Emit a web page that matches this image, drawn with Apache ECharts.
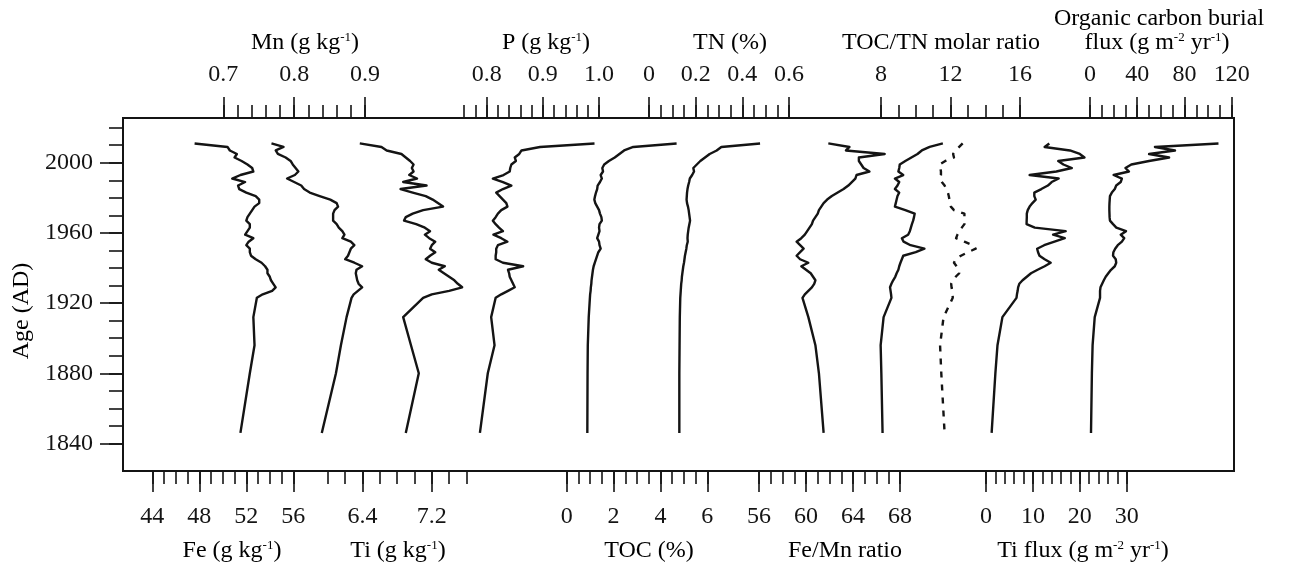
<!DOCTYPE html>
<html>
<head>
<meta charset="utf-8">
<script src="https://cdn.jsdelivr.net/npm/echarts@6/dist/echarts.min.js"></script>
<style>
  html, body { margin: 0; padding: 0; background: #fff; }
  #chart { width: 1289px; height: 566px; }
</style>
</head>
<body>
<div id="chart"></div>
<script>
// sample ages (AD), shared by every profile
const ages = [2011, 2009, 2007, 2005, 2003, 2001, 1999, 1997, 1995, 1993,
  1991, 1989, 1987, 1985, 1983, 1981, 1979, 1977, 1975, 1973,
  1971, 1969, 1967, 1965, 1963, 1961, 1959, 1957, 1955, 1953,
  1951, 1949, 1947, 1945, 1943, 1941, 1939, 1937, 1935, 1933,
  1931, 1929, 1927, 1925, 1923, 1912, 1896, 1880, 1846]

const fe = [47.6, 50.4, 50.6, 51.2, 51.0, 51.6, 52.1, 52.5, 52.6, 51.5,
  50.8, 51.9, 51.3, 51.4, 52.0, 52.8, 53.1, 53.1, 52.7, 52.5,
  52.3, 52.1, 52.0, 52.3, 52.3, 52.1, 51.9, 52.6, 52.2, 52.0,
  52.3, 52.3, 52.4, 52.8, 53.3, 53.6, 53.8, 53.8, 54.0, 54.1,
  54.3, 54.5, 54.2, 53.4, 52.9, 52.6, 52.7, 52.3, 51.5]
const mn = [0.768, 0.785, 0.774, 0.777, 0.788, 0.795, 0.798, 0.802, 0.806, 0.801,
  0.790, 0.800, 0.810, 0.814, 0.822, 0.836, 0.851, 0.860, 0.862, 0.857,
  0.855, 0.855, 0.855, 0.860, 0.863, 0.868, 0.871, 0.868, 0.880, 0.885,
  0.880, 0.878, 0.876, 0.872, 0.885, 0.896, 0.888, 0.887, 0.888, 0.889,
  0.891, 0.896, 0.890, 0.884, 0.881, 0.874, 0.866, 0.859, 0.839]
const ti = [6.37, 6.62, 6.68, 6.85, 6.90, 6.95, 6.99, 6.97, 6.99, 6.94,
  7.03, 6.87, 7.14, 6.84, 6.98, 7.13, 7.21, 7.27, 7.33, 7.10,
  6.98, 6.90, 6.88, 7.02, 7.12, 7.18, 7.12, 7.17, 7.24, 7.20,
  7.18, 7.24, 7.18, 7.13, 7.20, 7.35, 7.28, 7.34, 7.40, 7.46,
  7.50, 7.55, 7.40, 7.20, 7.10, 6.87, 6.96, 7.05, 6.90]
const p = [0.992, 0.895, 0.862, 0.858, 0.850, 0.852, 0.844, 0.842, 0.841, 0.830,
  0.811, 0.829, 0.844, 0.829, 0.817, 0.823, 0.829, 0.835, 0.837, 0.826,
  0.820, 0.816, 0.811, 0.816, 0.822, 0.829, 0.812, 0.826, 0.837, 0.820,
  0.817, 0.817, 0.816, 0.816, 0.829, 0.865, 0.838, 0.840, 0.841, 0.844,
  0.847, 0.850, 0.838, 0.826, 0.816, 0.808, 0.814, 0.802, 0.788]
const toc = [4.69, 2.84, 2.45, 2.25, 2.05, 1.80, 1.60, 1.52, 1.55, 1.45,
  1.50, 1.42, 1.32, 1.30, 1.25, 1.21, 1.18, 1.22, 1.30, 1.38,
  1.42, 1.48, 1.50, 1.40, 1.38, 1.40, 1.35, 1.30, 1.38, 1.40,
  1.45, 1.35, 1.30, 1.25, 1.20, 1.15, 1.12, 1.10, 1.08, 1.06,
  1.05, 1.03, 1.02, 1.00, 0.99, 0.94, 0.90, 0.89, 0.88]
const tn = [0.476, 0.310, 0.290, 0.260, 0.240, 0.220, 0.205, 0.190, 0.193, 0.185,
  0.175, 0.172, 0.168, 0.165, 0.163, 0.162, 0.161, 0.163, 0.167, 0.170,
  0.172, 0.174, 0.176, 0.173, 0.170, 0.168, 0.166, 0.165, 0.166, 0.162,
  0.160, 0.157, 0.154, 0.152, 0.150, 0.147, 0.145, 0.143, 0.141, 0.140,
  0.138, 0.137, 0.136, 0.135, 0.134, 0.132, 0.131, 0.130, 0.130]
const feMn = [61.9, 63.7, 63.4, 66.7, 64.5, 64.5, 64.7, 64.9, 65.4, 64.3,
  64.2, 63.9, 63.6, 63.2, 62.7, 62.2, 61.8, 61.5, 61.3, 61.1,
  61.0, 60.8, 60.6, 60.5, 60.3, 60.1, 59.9, 59.6, 59.2, 59.5,
  59.8, 59.5, 59.2, 59.5, 60.2, 59.6, 60.0, 60.4, 60.6, 60.8,
  60.7, 60.5, 60.2, 59.9, 59.7, 60.2, 60.8, 61.1, 61.5]
const tocTn = [11.56, 10.8, 10.35, 10.1, 9.75, 9.4, 9.08, 9.05, 9.0, 9.28,
  8.80, 9.05, 8.95, 8.80, 9.05, 8.95, 8.90, 8.85, 8.80, 9.40,
  9.94, 9.90, 9.85, 9.78, 9.72, 9.66, 9.56, 9.20, 9.30, 9.70,
  10.5, 10.0, 9.28, 9.20, 9.12, 9.05, 9.00, 8.90, 8.82, 8.70,
  8.60, 8.52, 8.55, 8.58, 8.60, 8.15, 7.98, 8.02, 8.09]
// dashed profile drawn on the TOC/TN scale
const tocTnDash = [12.7, 12.5, 12.3, 12.15, 12.2, 11.7, 11.37, 11.42, 11.45, 11.45,
  11.4, 11.5, 11.66, 11.75, 11.85, 11.9, 11.94, 11.98, 12.02, 12.2,
  12.8, 12.8, 12.8, 12.8, 12.65, 12.5, 12.4, 12.32, 12.8, 13.28,
  13.45, 13.0, 12.6, 12.3, 12.2, 12.35, 12.45, 12.5, 12.3, 12.15,
  12.04, 12.06, 12.1, 12.12, 12.13, 11.6, 11.4, 11.47, 11.66]
const tiFlux = [13.5, 12.5, 17.9, 20.0, 21.0, 15.4, 16.5, 18.3, 15.0, 9.3,
  15.5, 14.0, 13.2, 11.8, 10.3, 10.3, 10.6, 9.9, 9.3, 8.9,
  8.7, 8.7, 8.67, 8.65, 10.4, 17.0, 14.3, 16.8, 14.6, 12.4,
  10.9, 11.1, 11.4, 12.5, 13.8, 12.5, 11.0, 9.6, 8.7, 7.8,
  7.1, 6.85, 6.75, 6.6, 6.5, 3.5, 2.45, 2.0, 1.2]
const ocFlux = [108.8, 55, 72, 50, 67, 50, 35, 30, 33, 20,
  27, 26, 22.2, 21, 18.5, 16.9, 16.7, 16.5, 16.4, 16.4,
  16.5, 16.6, 16.9, 19.5, 22.3, 30.5, 26, 29, 27, 23.5,
  21.3, 19.8, 19.5, 21.8, 22.2, 21.0, 17.8, 15.5, 13.3, 11.7,
  10.3, 8.9, 8.5, 8.5, 8.5, 4.0, 2.2, 1.6, 0.85]

// tick labels
const ageTicks = [1840, 1880, 1920, 1960, 2000]
const mnTicks = [0.7, 0.8, 0.9]
const pTicks = [0.8, 0.9, 1.0]
const tnTicks = [0, 0.2, 0.4, 0.6]
const tocTnTicks = [8, 12, 16]
const ocTicks = [0, 40, 80, 120]
const feTicks = [44, 48, 52, 56]
const tiTicks = [6.4, 7.2]
const tocTicks = [0, 2, 4, 6]
const feMnTicks = [56, 60, 64, 68]
const tiFluxTicks = [0, 10, 20, 30]

const FONT = 'Liberation Serif'
const INK = '#141414'
const TOP = 118
const HEIGHT = 353
const AGE_MIN = 1824.3
const AGE_MAX = 2025.5

function steps(min, max, step) {
  const out = []
  for (let v = min; v <= max + step / 1000; v += step) out.push(Math.round(v * 1000) / 1000)
  return out
}

const grid = [{ left: 123, top: TOP, width: 1111, height: HEIGHT, show: true,
  borderColor: INK, borderWidth: 2, backgroundColor: 'transparent' }]
const xAxis = [{ gridIndex: 0, type: 'value', min: 0, max: 1, show: false }]
const tickStyle = { color: INK, width: 1.6 }
const yAxis = [
  {
    gridIndex: 0, type: 'value', min: AGE_MIN, max: AGE_MAX, position: 'left',
    axisLine: { show: false }, splitLine: { show: false },
    axisTick: { customValues: ageTicks, length: 23, lineStyle: tickStyle },
    axisLabel: { customValues: ageTicks, margin: 30, color: INK, fontFamily: FONT, fontSize: 24,
      formatter: v => String(v) }
  },
  {
    gridIndex: 0, type: 'value', min: AGE_MIN, max: AGE_MAX, position: 'left',
    axisLine: { show: false }, splitLine: { show: false },
    axisTick: { customValues: steps(1840, 2020, 10), length: 14, lineStyle: tickStyle },
    axisLabel: { show: false }
  }
]
const series = []

function segment(pos, min, max, px0, px1, ticks, step, dec) {
  const g = grid.length
  grid.push({ left: px0, top: TOP, width: px1 - px0, height: HEIGHT })
  const major = xAxis.length
  xAxis.push({
    gridIndex: g, type: 'value', min: min, max: max, position: pos,
    axisLine: { show: false }, splitLine: { show: false },
    axisTick: { customValues: ticks, length: 21, lineStyle: tickStyle },
    axisLabel: {
      customValues: ticks, margin: pos === 'top' ? 43 : 46, verticalAlign: 'middle',
      color: INK, fontFamily: FONT, fontSize: 24,
      formatter: v => dec ? Number(v).toFixed(dec) : String(Math.round(v * 1000) / 1000)
    }
  })
  xAxis.push({
    gridIndex: g, type: 'value', min: min, max: max, position: pos,
    axisLine: { show: false }, splitLine: { show: false },
    axisTick: { customValues: steps(min, max, step), length: 13, lineStyle: tickStyle },
    axisLabel: { show: false }
  })
  const y = yAxis.length
  yAxis.push({ gridIndex: g, type: 'value', min: AGE_MIN, max: AGE_MAX, show: false })
  return { x: major, y: y }
}

function profile(axes, values, dashed) {
  series.push({
    type: 'line', xAxisIndex: axes.x, yAxisIndex: axes.y,
    data: values.map((v, i) => [v, ages[i]]),
    showSymbol: false, clip: false, silent: true,
    lineStyle: { color: INK, width: 2.4, type: dashed ? [6, 7] : 'solid', join: 'round' }
  })
}

// top axes
const mnAx = segment('top', 0.7, 0.9, 223.3, 365, mnTicks, 0.02)
const pAx = segment('top', 0.76, 1.0, 464.2, 599, pTicks, 0.02, 1)
const tnAx = segment('top', 0, 0.6, 649, 789, tnTicks, 0.05)
const tocTnAx = segment('top', 8, 16, 881, 1020, tocTnTicks, 1)
const ocAx = segment('top', 0, 120, 1090, 1231.7, ocTicks, 10)
// bottom axes
const feAx = segment('bottom', 44, 56, 152.3, 293.3, feTicks, 1)
const tiAx = segment('bottom', 6.0, 7.6, 327.7, 466.5, tiTicks, 0.2)
const tocAx = segment('bottom', 0, 6, 566.7, 707.3, tocTicks, 0.5)
const feMnAx = segment('bottom', 56, 68, 759, 900, feMnTicks, 1)
const tiFluxAx = segment('bottom', 0, 30, 986, 1126.7, tiFluxTicks, 2)

profile(feAx, fe)
profile(mnAx, mn)
profile(tiAx, ti)
profile(pAx, p)
profile(tocAx, toc)
profile(tnAx, tn)
profile(feMnAx, feMn)
profile(tocTnAx, tocTn)
profile(tocTnAx, tocTnDash, true)
profile(tiFluxAx, tiFlux)
profile(ocAx, ocFlux)

const rich = {
  n: { fontFamily: FONT, fontSize: 24, color: INK },
  s: { fontFamily: FONT, fontSize: 13, color: INK, verticalAlign: 'top' }
}
function label(x, y, text, rotation) {
  return {
    type: 'text', x: x, y: y, rotation: rotation || 0, silent: true,
    style: { text: text, rich: rich, align: 'center', verticalAlign: 'middle' }
  }
}

const chart = echarts.init(document.getElementById('chart'))
chart.setOption({
  animation: false,
  backgroundColor: '#fff',
  grid: grid,
  xAxis: xAxis,
  yAxis: yAxis,
  series: series,
  graphic: [
    label(305, 43, '{n|Mn (g kg}{s|-1}{n|)}'),
    label(546, 43, '{n|P (g kg}{s|-1}{n|)}'),
    label(730, 43, '{n|TN (%)}'),
    label(941, 43, '{n|TOC/TN molar ratio}'),
    label(1159, 19, '{n|Organic carbon burial}'),
    label(1157, 43, '{n|flux (g m}{s|-2}{n| yr}{s|-1}{n|)}'),
    label(232, 551, '{n|Fe (g kg}{s|-1}{n|)}'),
    label(398, 551, '{n|Ti (g kg}{s|-1}{n|)}'),
    label(649, 551, '{n|TOC (%)}'),
    label(845, 551, '{n|Fe/Mn ratio}'),
    label(1083, 551, '{n|Ti flux (g m}{s|-2}{n| yr}{s|-1}{n|)}'),
    label(22, 311, '{n|Age (AD)}', Math.PI / 2)
  ]
})
</script>
</body>
</html>
